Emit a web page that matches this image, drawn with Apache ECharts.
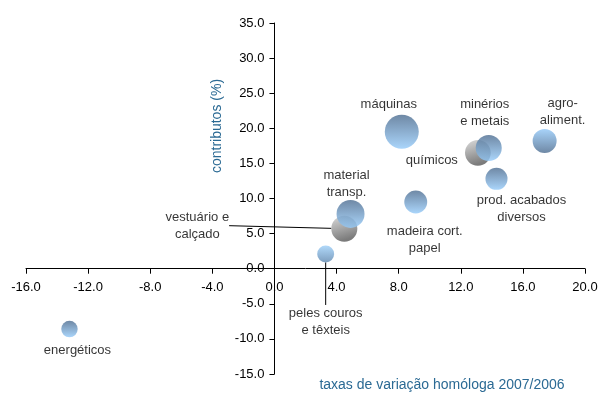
<!DOCTYPE html>
<html>
<head>
<meta charset="utf-8">
<script src="https://cdn.jsdelivr.net/npm/echarts@6/dist/echarts.min.js"></script>
<style>
  html, body { margin: 0; padding: 0; background: #fff; }
  #chart { width: 598px; height: 393px; }
</style>
</head>
<body>
<div id="chart"></div>
<script>
// Sectors: growth rate (x), contribution in % (y), and weight (bubble area)
const sectores = ['máquinas', 'minérios e metais', 'químicos', 'agro-aliment.', 'prod. acabados diversos',
  'madeira cort. papel', 'material transp.', 'vestuário e calçado', 'peles couros e têxteis', 'energéticos'];
const rotulos = ['máquinas', 'minérios\ne metais', 'químicos', 'agro-\naliment.', 'prod. acabados\ndiversos',
  'madeira cort.\npapel', 'material\ntransp.', 'vestuário e\ncalçado', 'peles couros\ne têxteis', 'energéticos'];
const taxaVariacao = [8.2, 13.8, 13.1, 17.4, 14.3, 9.1, 4.9, 4.5, 3.3, -13.2];
const contributos = [19.5, 17.2, 16.5, 18.2, 12.8, 9.5, 7.8, 5.7, 2.1, -8.6];
const pesos = [14.5, 8.5, 8.3, 7.2, 6.1, 6.6, 9.8, 8.5, 3.6, 3.4];

const xTicks = { min: -16, max: 20, interval: 4 };
const yTicks = { min: -15, max: 35, interval: 5 };

// Presentation of each sector: fill style and label offset
const estilo = {
  'máquinas': { fill: 'blue', dx: -13, dy: -27 },
  'minérios e metais': { fill: 'blue', dx: -4, dy: -35 },
  'químicos': { fill: 'grey', dx: -46, dy: 8 },
  'agro-aliment.': { fill: 'blueUp', dx: 18, dy: -29 },
  'prod. acabados diversos': { fill: 'blue', dx: 25, dy: 30 },
  'madeira cort. papel': { fill: 'blue', dx: 9, dy: 38 },
  'material transp.': { fill: 'blue', dx: -4, dy: -30 },
  'vestuário e calçado': { fill: 'grey', dx: -147, dy: -3, line: true },
  'peles couros e têxteis': { fill: 'pale', dx: 0, dy: 68, line: true },
  'energéticos': { fill: 'blue', dx: 8, dy: 21 }
};

function grad(top, bottom, x2) {
  return new echarts.graphic.LinearGradient(0, 0, x2 || 0, 1, [
    { offset: 0, color: top }, { offset: 1, color: bottom }
  ]);
}
const fills = {
  blue: () => grad('#4b6b8f', '#95cbfa'),
  blueUp: () => grad('#92c8f8', '#4b6b8f'),
  pale: () => grad('#9dcff9', '#5d86ae'),
  grey: () => grad('#d2d2d2', '#5a5a5a', 0.3)
};

// grey bubbles first so the blue ones are drawn over them
const ordem = sectores.map((s, i) => i)
  .sort((a, b) => (estilo[sectores[a]].fill === 'grey' ? 0 : 1) - (estilo[sectores[b]].fill === 'grey' ? 0 : 1));

const dados = ordem.map(i => {
  const st = estilo[sectores[i]];
  return {
    name: sectores[i],
    value: [taxaVariacao[i], contributos[i], pesos[i]],
    rotulo: rotulos[i],
    itemStyle: { color: fills[st.fill]() },
    labelLine: { show: !!st.line, lineStyle: { color: '#000', width: 1 } }
  };
});

const fonte = "'Liberation Sans', Arial, sans-serif";
const grid = { left: 26, right: 13, top: 23, bottom: 19 };
const W = 598, H = 393;

const chart = echarts.init(document.getElementById('chart'));
chart.setOption({
  animation: false,
  backgroundColor: '#fff',
  grid: Object.assign({ containLabel: false, outerBoundsMode: 'none' }, grid),
  xAxis: {
    type: 'value', min: xTicks.min, max: xTicks.max, interval: xTicks.interval, position: 'bottom',
    axisLine: { onZero: false, lineStyle: { color: '#000', width: 1 } },
    axisTick: { show: true, length: 5, lineStyle: { color: '#000' } },
    axisLabel: { color: '#000', fontSize: 13, fontFamily: fonte, margin: 12, formatter: v => v.toFixed(1) },
    splitLine: { show: false }
  },
  yAxis: {
    type: 'value', min: yTicks.min, max: yTicks.max, interval: yTicks.interval, position: 'left',
    axisLine: { onZero: false, lineStyle: { color: '#000', width: 1 } },
    axisTick: { show: true, length: 5, lineStyle: { color: '#000' } },
    axisLabel: { color: '#000', fontSize: 13, fontFamily: fonte, margin: 10, formatter: v => v.toFixed(1) },
    splitLine: { show: false }
  },
  graphic: [
    {
      type: 'text', x: 217, y: 126, rotation: Math.PI / 2,
      style: { text: 'contributos (%)', fill: '#2b6a94', font: "14px " + fonte, align: 'center', verticalAlign: 'middle' }
    },
    {
      type: 'text', x: 442, y: 385,
      style: { text: 'taxas de variação homóloga 2007/2006', fill: '#2b6a94', font: "14px " + fonte, align: 'center', verticalAlign: 'middle' }
    }
  ],
  series: [{
    type: 'scatter',
    data: dados,
    symbolSize: v => 8.93 * Math.sqrt(v[2]),
    label: {
      show: true, position: 'inside', color: '#000', fontSize: 13, fontFamily: fonte, lineHeight: 17,
      formatter: p => p.data.rotulo
    },
    labelLayout: p => {
      const st = estilo[dados[p.dataIndex].name];
      return { dx: st.dx, dy: st.dy, hideOverlap: false };
    },
    labelLine: { show: false },
    emphasis: { disabled: true }
  }]
});

// Move both axes (line, ticks and labels) so they cross at the origin
const origem = chart.convertToPixel({ gridIndex: 0 }, [0, 0]);
chart.setOption({
  xAxis: { offset: origem[1] - (H - grid.bottom) },
  yAxis: { offset: grid.left - origem[0] }
});
</script>
</body>
</html>
